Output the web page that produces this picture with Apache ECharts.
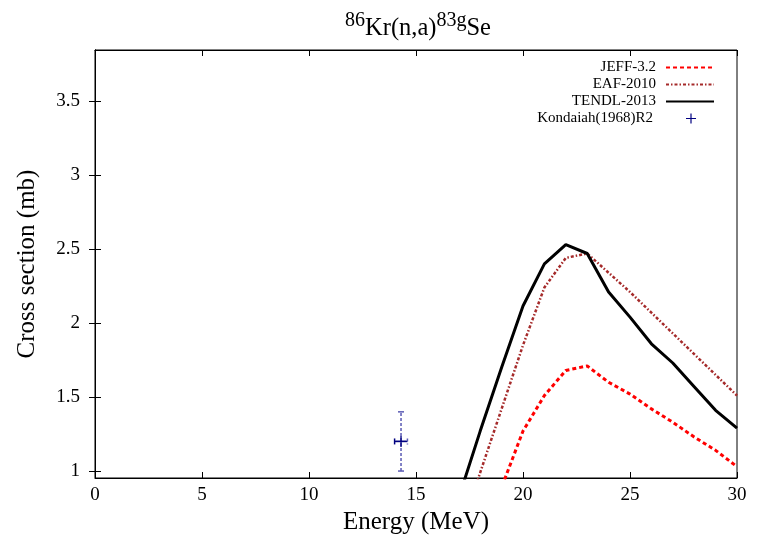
<!DOCTYPE html>
<html>
<head>
<meta charset="utf-8">
<script src="https://cdn.jsdelivr.net/npm/echarts@6/dist/echarts.min.js"></script>
<style>
  html, body { margin: 0; padding: 0; background: #fff; }
  #main { width: 763px; height: 539px; }
</style>
</head>
<body>
<div id="main"></div>
<script>
// values
var jeffE = [18, 19, 20, 21, 22, 23, 24, 25, 26, 27, 28, 29, 30];
var jeffXs = [0.55, 0.89, 1.27, 1.51, 1.68, 1.71, 1.60, 1.52, 1.42, 1.33, 1.23, 1.14, 1.03];

var eafE = [17, 18, 19, 20, 21, 22, 23, 24, 25, 26, 27, 28, 29, 30];
var eafXs = [0.55, 0.99, 1.42, 1.85, 2.24, 2.44, 2.47, 2.34, 2.21, 2.07, 1.93, 1.79, 1.65, 1.51];

var tendlE = [17, 18, 19, 20, 21, 22, 23, 24, 25, 26, 27, 28, 29, 30];
var tendlXs = [0.82, 1.27, 1.70, 2.115, 2.40, 2.53, 2.47, 2.21, 2.04, 1.86, 1.73, 1.57, 1.41, 1.29];

var expE = [14.3];
var expXs = [1.2];
var expDE = [0.3];
var expDXs = [0.2];

var yTicks = [1, 1.5, 2, 2.5, 3, 3.5];

var font = 'Liberation Serif';

function pairs(xs, ys) {
    var out = [];
    for (var i = 0; i < xs.length; i++) out.push([xs[i], ys[i]]);
    return out;
}

var expData = [];
for (var i = 0; i < expE.length; i++) {
    expData.push([expE[i], expXs[i], expDE[i], expDXs[i]]);
}

var plusPath = 'path://M0,4.4H10V5.6H0Z M4.4,0H5.6V10H4.4Z';

// one legend per entry so the samples line up on the right
function legendAt(top, name) {
    return {
        data: [name],
        orient: 'vertical',
        align: 'right',
        right: 48,
        top: top,
        padding: 0,
        itemWidth: 48,
        itemHeight: 10,
        selectedMode: false,
        itemStyle: {opacity: 0},
        textStyle: {fontFamily: font, fontSize: 15, color: '#000', padding: [0, 5, 0, 0]}
    };
}

var chart = echarts.init(document.getElementById('main'));

var option = {
    animation: false,
    backgroundColor: '#fff',
    title: {
        text: '{sup|86}{n|Kr(n,a)}{sup|83g}{n|Se}',
        left: 413,
        textAlign: 'center',
        top: 6,
        textStyle: {
            fontWeight: 'normal',
            rich: {
                n: {fontFamily: font, fontSize: 24.5, fontWeight: 'normal', color: '#000', verticalAlign: 'bottom', lineHeight: 30},
                sup: {fontFamily: font, fontSize: 20, fontWeight: 'normal', color: '#000', verticalAlign: 'top', lineHeight: 20}
            }
        }
    },
    legend: [
        legendAt(60, 'JEFF-3.2'),
        legendAt(77, 'EAF-2010'),
        legendAt(94, 'TENDL-2013'),
        {
            data: ['Kondaiah(1968)R2'],
            orient: 'vertical',
            align: 'right',
            right: 67,
            top: 111,
            padding: 0,
            itemWidth: 10,
            itemHeight: 10,
            selectedMode: false,
            textStyle: {fontFamily: font, fontSize: 15, color: '#000', padding: [0, 28, 0, 0]}
        }
    ],
    grid: {
        left: 95, right: 26, top: 50, bottom: 61,
        outerBoundsMode: 'none',
        show: true, borderColor: '#000', borderWidth: 1
    },
    xAxis: [{
        type: 'value', min: 0, max: 30, interval: 5,
        name: 'Energy (MeV)', nameLocation: 'middle', nameGap: 31,
        nameTextStyle: {fontFamily: font, fontSize: 25, color: '#000'},
        axisLine: {show: true, lineStyle: {color: '#000', width: 1}},
        axisTick: {inside: true, length: 6, lineStyle: {color: '#000'}},
        axisLabel: {fontFamily: font, fontSize: 19, color: '#000', margin: 8},
        splitLine: {show: false}
    }, {
        type: 'value', min: 0, max: 30, interval: 5, position: 'top',
        axisLine: {show: true, lineStyle: {color: '#000', width: 1}},
        axisTick: {inside: true, length: 6, lineStyle: {color: '#000'}},
        axisLabel: {show: false},
        splitLine: {show: false}
    }],
    yAxis: [{
        type: 'value', min: 0.953, max: 3.845,
        name: 'Cross section (mb)', nameLocation: 'middle', nameGap: 55,
        nameTextStyle: {fontFamily: font, fontSize: 25, color: '#000'},
        axisLine: {show: true, lineStyle: {color: '#000', width: 1}},
        axisTick: {inside: true, length: 6, lineStyle: {color: '#000'}, customValues: yTicks},
        axisLabel: {fontFamily: font, fontSize: 19, color: '#000', margin: 15, customValues: yTicks},
        splitLine: {show: false}
    }, {
        type: 'value', min: 0.953, max: 3.845, position: 'right',
        axisLine: {show: true, lineStyle: {color: '#000', width: 1}},
        axisTick: {inside: true, length: 6, lineStyle: {color: '#000'}, customValues: yTicks},
        axisLabel: {show: false},
        splitLine: {show: false}
    }],
    series: [{
        name: 'JEFF-3.2', type: 'line', data: pairs(jeffE, jeffXs),
        symbol: 'none', color: '#ff0000',
        lineStyle: {color: '#ff0000', width: 3, type: [4, 3]}
    }, {
        name: 'EAF-2010', type: 'line', data: pairs(eafE, eafXs),
        symbol: 'none', color: '#a52a2a',
        lineStyle: {color: '#a52a2a', width: 2.5, type: [3, 2, 1.5, 2]}
    }, {
        name: 'TENDL-2013', type: 'line', data: pairs(tendlE, tendlXs),
        symbol: 'none', color: '#000',
        lineStyle: {color: '#000', width: 3}
    }, {
        type: 'custom',
        data: expData,
        renderItem: function (params, api) {
            var e = api.value(0), s = api.value(1), de = api.value(2), ds = api.value(3);
            var lo = api.coord([e, s - ds]);
            var hi = api.coord([e, s + ds]);
            var le = api.coord([e - de, s]);
            var ri = api.coord([e + de, s]);
            var dashed = {stroke: '#5a5ab4', lineWidth: 1.5, lineDash: [3, 2]};
            var solid = {stroke: '#000080', lineWidth: 1.5};
            var cap = 3;
            return {
                type: 'group',
                children: [
                    {type: 'line', shape: {x1: lo[0], y1: lo[1], x2: hi[0], y2: hi[1]}, style: dashed},
                    {type: 'line', shape: {x1: lo[0] - cap, y1: lo[1], x2: lo[0] + cap, y2: lo[1]}, style: {stroke: '#5a5ab4', lineWidth: 1.5}},
                    {type: 'line', shape: {x1: hi[0] - cap, y1: hi[1], x2: hi[0] + cap, y2: hi[1]}, style: {stroke: '#5a5ab4', lineWidth: 1.5}},
                    {type: 'line', shape: {x1: le[0], y1: le[1], x2: ri[0], y2: ri[1]}, style: solid},
                    {type: 'line', shape: {x1: le[0], y1: le[1] - cap, x2: le[0], y2: le[1] + cap}, style: solid},
                    {type: 'line', shape: {x1: ri[0], y1: ri[1] - cap, x2: ri[0], y2: ri[1] + cap}, style: dashed}
                ]
            };
        }
    }, {
        name: 'Kondaiah(1968)R2', type: 'scatter', data: pairs(expE, expXs),
        symbol: plusPath, symbolSize: 11, color: '#000080',
        itemStyle: {color: '#000080', opacity: 1}
    }]
};

chart.setOption(option);
</script>
</body>
</html>
